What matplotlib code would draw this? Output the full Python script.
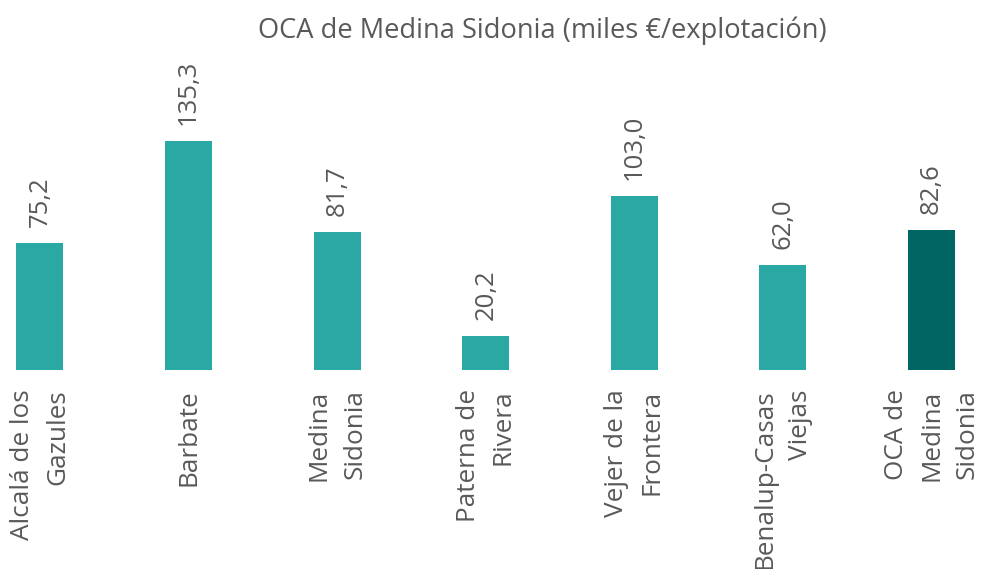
import matplotlib.pyplot as plt

'''
 Data read from the chart
'''
categories = ['Alcalá de los\nGazules', 'Barbate', 'Medina\nSidonia', 'Paterna de\nRivera',
              'Vejer de la\nFrontera', 'Benalup-Casas\nViejas', 'OCA de\nMedina\nSidonia']
values = [75.2, 135.3, 81.7, 20.2, 103.0, 62.0, 82.6]
labels = ['75,2', '135,3', '81,7', '20,2', '103,0', '62,0', '82,6']

BAR_COLOR = '#29a8a4'
TOTAL_COLOR = '#016663'
TEXT_COLOR = '#595959'
FONT = 'Open Sans'

plt.rcParams['font.family'] = [FONT, 'DejaVu Sans']

fig = plt.figure(figsize=(9.87, 5.69), dpi=100)
ax = fig.add_axes([0, 0.3497, 1, 0.5624])

colors = [BAR_COLOR] * (len(values) - 1) + [TOTAL_COLOR]
x = list(range(len(values)))
bars = ax.bar(x, values, width=0.316, color=colors)

for rect, lab in zip(bars, labels):
    ax.annotate(lab, (rect.get_x() + rect.get_width() / 2, rect.get_height()),
                xytext=(0, 16), textcoords='offset pixels', rotation=90,
                ha='center', va='bottom', fontsize=18.5, color=TEXT_COLOR)

ax.set_xlim(-0.269, 6.373)
ax.set_ylim(0, 189.3)
ax.set_xticks(x)
ax.set_xticklabels(categories, rotation=90, fontsize=18.8, color=TEXT_COLOR)
for t in ax.get_xticklabels():
    t.set_multialignment('right')
    t.set_linespacing(1.55)
ax.tick_params(axis='x', length=0, pad=14)
ax.set_yticks([])
for s in ax.spines.values():
    s.set_visible(False)

fig.text(542 / 987, 1 - 31 / 569, 'OCA de Medina Sidonia (miles €/explotación)',
         ha='center', va='center', fontsize=19.6, color=TEXT_COLOR)

fig.savefig('out.png', dpi=100)
